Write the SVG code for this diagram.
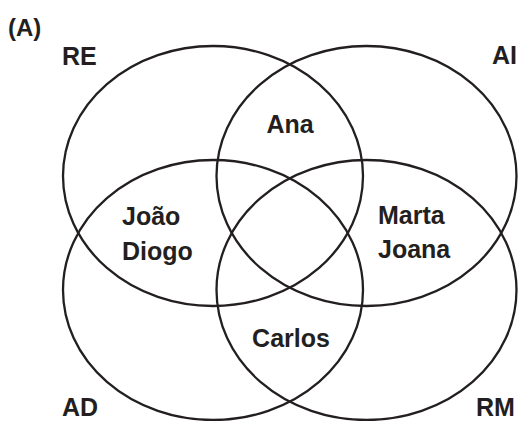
<svg xmlns="http://www.w3.org/2000/svg" width="519" height="421" viewBox="0 0 519 421">
<style>
.set{fill:none;stroke:#231f20;stroke-width:2.3}
.t{font-family:"Liberation Sans",Arial,sans-serif;font-weight:bold;font-size:25px;fill:#231f20}
</style>
<rect width="519" height="421" fill="#fff"/>
<g id="sets">
<g id="RE"><ellipse class="set" cx="213" cy="176" rx="150" ry="130"/><text class="t" x="62" y="65">RE</text></g>
<g id="AI"><ellipse class="set" cx="366.5" cy="176" rx="150" ry="130"/><text class="t" x="492" y="64">AI</text></g>
<g id="AD"><ellipse class="set" cx="213" cy="290" rx="150" ry="130"/><text class="t" x="62" y="416">AD</text></g>
<g id="RM"><ellipse class="set" cx="366.5" cy="290" rx="150" ry="130"/><text class="t" x="476" y="416">RM</text></g>
</g>
<g id="title"><text class="t" x="8" y="36" style="font-size:24px">(A)</text></g>
<g id="ana"><text class="t" x="290" y="133" text-anchor="middle">Ana</text></g>
<g id="joao"><text class="t" x="122" y="225">João</text><text class="t" x="122" y="260">Diogo</text></g>
<g id="marta"><text class="t" x="378" y="224">Marta</text><text class="t" x="378" y="258">Joana</text></g>
<g id="carlos"><text class="t" x="291" y="347" text-anchor="middle">Carlos</text></g>
<g id="connectors"/>
</svg>
